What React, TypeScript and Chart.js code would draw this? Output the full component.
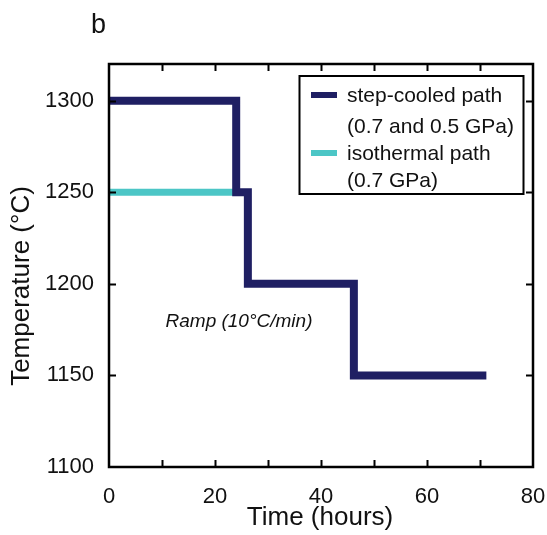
import React, { useEffect, useRef } from "react";
import { Chart, registerables } from "chart.js";
Chart.register(...registerables);

const panelLabel = "b";
const xTitle = "Time (hours)";
const yTitle = "Temperature (°C)";
const annotationText = "Ramp (10°C/min)";

const stepTimes = [0, 24, 24, 26.2, 26.2, 46.2, 46.2, 71.2];
const stepTemps = [1300, 1300, 1250, 1250, 1200, 1200, 1150, 1150];
const isoTimes = [0, 24];
const isoTemps = [1250, 1250];

const seriesNames = ["step-cooled path", "isothermal path"];
const seriesNotes = ["(0.7 and 0.5 GPa)", "(0.7 GPa)"];
const seriesColors = ["#1f1f63", "#4cc6c6"];

const xTickValues = [0, 20, 40, 60, 80];
const xInnerTicks = [10, 20, 30, 40, 50, 60, 70];
const yTickValues = [1100, 1150, 1200, 1250, 1300];
const yInnerTicks = [1150, 1200, 1250, 1300];

const FONT = '"Liberation Sans", Arial, Helvetica, sans-serif';

const decorPlugin = {
  id: "decor",
  afterDraw(chart: any) {
    const { ctx, chartArea: a, scales } = chart;
    const xs = scales.x;
    const ys = scales.y;
    ctx.save();
    // frame
    ctx.strokeStyle = "#000";
    ctx.lineWidth = 2.5;
    ctx.strokeRect(a.left, a.top, a.right - a.left, a.bottom - a.top);
    // inward ticks
    ctx.lineWidth = 2;
    ctx.beginPath();
    for (const v of xInnerTicks) {
      const px = Math.round(xs.getPixelForValue(v)) + 0.5;
      ctx.moveTo(px, a.bottom);
      ctx.lineTo(px, a.bottom - 7);
      ctx.moveTo(px, a.top);
      ctx.lineTo(px, a.top + 7);
    }
    for (const v of yInnerTicks) {
      const py = Math.round(ys.getPixelForValue(v)) + 0.5;
      ctx.moveTo(a.left, py);
      ctx.lineTo(a.left + 7, py);
      ctx.moveTo(a.right, py);
      ctx.lineTo(a.right - 7, py);
    }
    ctx.stroke();

    // legend box
    const lx = 299.5, ly = 76, lw = 224, lh = 118;
    ctx.fillStyle = "#fff";
    ctx.fillRect(lx, ly, lw, lh);
    ctx.lineWidth = 2;
    ctx.strokeStyle = "#000";
    ctx.strokeRect(lx, ly, lw, lh);
    const sampleY = [95, 153];
    const baseY = [[102, 133], [160, 187]];
    ctx.font = `21px ${FONT}`;
    ctx.textAlign = "left";
    ctx.textBaseline = "alphabetic";
    for (let i = 0; i < 2; i++) {
      ctx.strokeStyle = seriesColors[i];
      ctx.lineWidth = 6;
      ctx.beginPath();
      ctx.moveTo(311, sampleY[i]);
      ctx.lineTo(337, sampleY[i]);
      ctx.stroke();
      ctx.fillStyle = "#111";
      ctx.fillText(seriesNames[i], 347, baseY[i][0]);
      ctx.fillText(seriesNotes[i], 347, baseY[i][1]);
    }

    // annotation
    ctx.font = `italic 19px ${FONT}`;
    ctx.textAlign = "center";
    ctx.textBaseline = "middle";
    ctx.fillStyle = "#111";
    ctx.fillText(annotationText, 239, 322);

    // y title
    ctx.save();
    ctx.translate(22, 286);
    ctx.rotate(-Math.PI / 2);
    ctx.font = `26px ${FONT}`;
    ctx.textAlign = "center";
    ctx.textBaseline = "middle";
    ctx.fillText(yTitle, 0, 0);
    ctx.restore();

    // x title
    ctx.font = `26px ${FONT}`;
    ctx.textAlign = "center";
    ctx.textBaseline = "middle";
    ctx.fillText(xTitle, 320, 518);

    // panel label
    ctx.font = `27px ${FONT}`;
    ctx.textAlign = "left";
    ctx.textBaseline = "alphabetic";
    ctx.fillText(panelLabel, 91, 33);
    ctx.restore();
  },
};

export default function App() {
  const ref = useRef<HTMLCanvasElement | null>(null);
  useEffect(() => {
    if (!ref.current) return;
    const chart = new Chart(ref.current, {
      type: "scatter",
      data: {
        datasets: [
          {
            label: seriesNames[0],
            data: stepTimes.map((t, i) => ({ x: t, y: stepTemps[i] })),
            showLine: true,
            borderColor: seriesColors[0],
            backgroundColor: seriesColors[0],
            borderWidth: 8,
            pointRadius: 0,
            borderJoinStyle: "miter",
            borderCapStyle: "butt",
            tension: 0,
            clip: 10,
          },
          {
            label: seriesNames[1],
            data: isoTimes.map((t, i) => ({ x: t, y: isoTemps[i] })),
            showLine: true,
            borderColor: seriesColors[1],
            backgroundColor: seriesColors[1],
            borderWidth: 7,
            pointRadius: 0,
            borderCapStyle: "butt",
            tension: 0,
            clip: 10,
          },
        ],
      },
      options: {
        responsive: false,
        animation: false,
        devicePixelRatio: 1,
        layout: { padding: { top: 64, right: 14, left: 0, bottom: 0 } },
        plugins: { legend: { display: false }, tooltip: { enabled: false } },
        scales: {
          x: {
            type: "linear",
            min: 0,
            max: 80,
            afterFit: (s: any) => {
              s.height = 68;
              s.paddingLeft = 0;
              s.paddingRight = 0;
            },
            afterBuildTicks: (s: any) => {
              s.ticks = xTickValues.map((v) => ({ value: v }));
            },
            grid: { display: false, drawTicks: false },
            border: { display: false },
            ticks: {
              padding: 17,
              color: "#111",
              font: { family: FONT, size: 22 },
              maxRotation: 0,
              callback: (v: any) => String(v),
            },
          },
          y: {
            type: "linear",
            min: 1100,
            max: 1320,
            afterFit: (s: any) => {
              s.width = 109;
              s.paddingTop = 0;
              s.paddingBottom = 0;
            },
            afterBuildTicks: (s: any) => {
              s.ticks = yTickValues.map((v) => ({ value: v }));
            },
            grid: { display: false, drawTicks: false },
            border: { display: false },
            ticks: {
              padding: 15,
              color: "#111",
              font: { family: FONT, size: 22 },
              callback: (v: any) => String(v),
            },
          },
        },
      },
      plugins: [decorPlugin],
    });
    return () => chart.destroy();
  }, []);
  return (
    <div style={{ position: "fixed", left: 0, top: 0, width: 547, height: 535, background: "#fff" }}>
      <canvas ref={ref} width={547} height={535} style={{ width: 547, height: 535 }} />
    </div>
  );
}
